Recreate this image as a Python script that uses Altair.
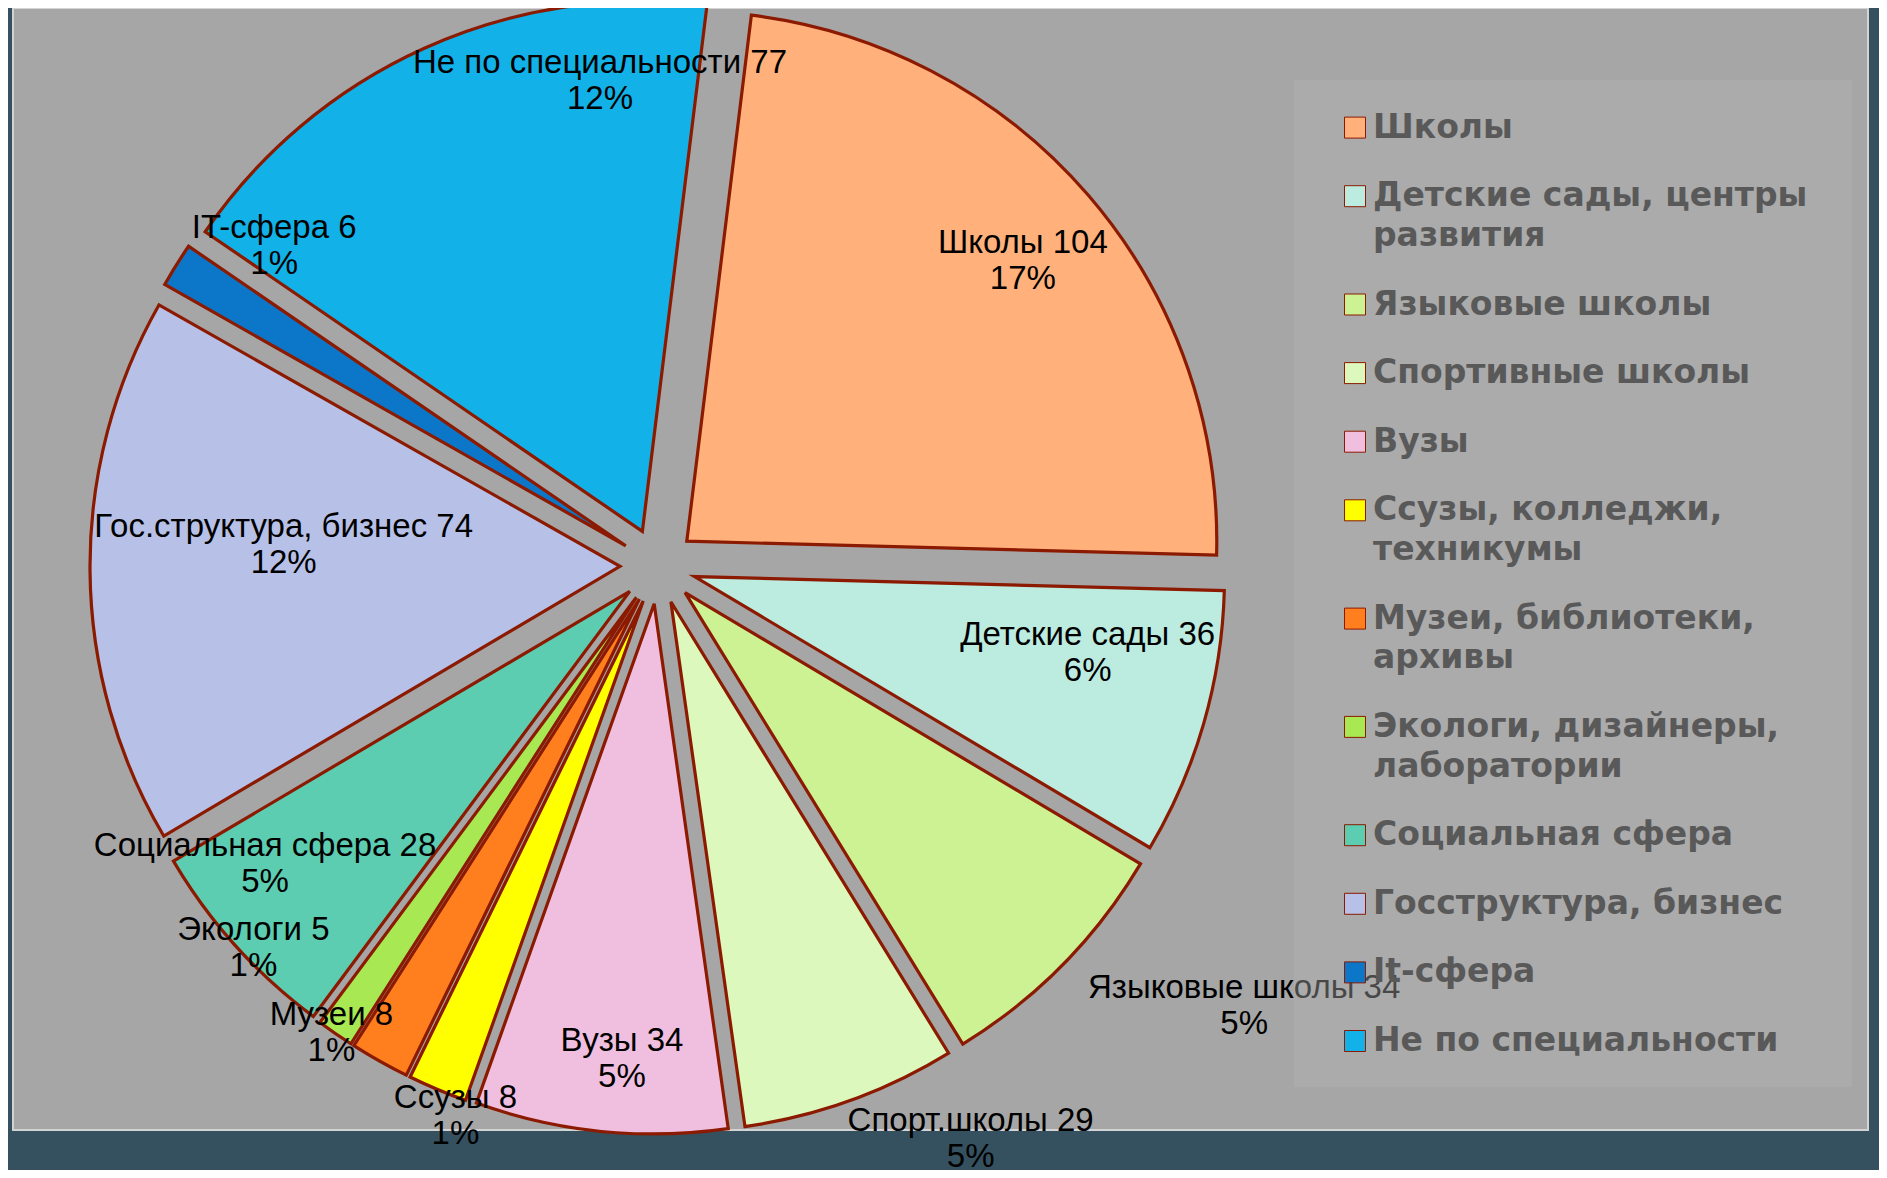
import math
import altair as alt
import pandas as pd

# ---- data ----
slice_labels = ["Школы", "Детские сады", "Языковые школы", "Спорт.школы", "Вузы",
                "Ссузы", "Музеи", "Экологи", "Социальная сфера",
                "Гос.структура, бизнес", "IT-сфера", "Не по специальности"]
slice_values = [104, 36, 34, 29, 34, 8, 8, 5, 28, 74, 6, 77]
slice_percents = ["17%", "6%", "5%", "5%", "5%", "1%", "1%", "1%", "5%", "12%", "1%", "12%"]
legend_labels = ["Школы", "Детские сады, центры\nразвития", "Языковые школы",
                 "Спортивные школы", "Вузы", "Ссузы, колледжи,\nтехникумы",
                 "Музеи, библиотеки,\nархивы", "Экологи, дизайнеры,\nлаборатории",
                 "Социальная сфера", "Госструктура, бизнес", "It-сфера",
                 "Не по специальности"]
slice_colors = ["#FFB07B", "#BCEBE0", "#CCF294", "#DDF8BC", "#F0BFDF", "#FFFF00",
                "#FF7F1F", "#A8E852", "#5CCDB0", "#B7C1E8", "#0C77C8", "#12B2E8"]

# ---- label placement (style): angle clockwise from 12 o'clock (deg), distance from centre (px)
label_angle = [49.9, 101.2, 126.8, 151.3, 184.2, 200.3, 215.1, 226.8, 233.0, 273.5, 310.0, 353.2]
label_distance = [477, 438, 732, 651, 492, 584, 568, 555, 492, 375, 501, 490]

TOTAL = sum(slice_values)
CX, CY, R, EXPLODE = 645, 558, 530, 38
START = math.radians(7)

pie = pd.DataFrame({
    "order": list(range(len(slice_values))),
    "label": slice_labels,
    "value": slice_values,
    "pct": slice_percents,
    "legend": legend_labels,
    "la": label_angle,
    "ld": label_distance,
})
pie["text"] = pie["label"] + " " + pie["value"].astype(str) + "\n" + pie["pct"]

extra = []
acc = 0
for s in legend_labels:
    extra.append(acc)
    acc += s.count("\n")
leg = pd.DataFrame({"legend": legend_labels, "order": list(range(len(legend_labels))), "extra": extra})

color = alt.Color("legend:N", scale=alt.Scale(domain=legend_labels, range=slice_colors), legend=None)

arcs = (
    alt.Chart(pie)
    .transform_window(cum="sum(value)", sort=[alt.SortField("order")], frame=[None, 0])
    .transform_calculate(start="datum.cum - datum.value")
    .transform_calculate(mid=f"{START} + (datum.start + datum.value / 2) / {TOTAL} * 2 * PI")
    .transform_calculate(px=f"{CX} + {EXPLODE} * sin(datum.mid)",
                         py=f"{CY} - {EXPLODE} * cos(datum.mid)")
    .mark_arc(radius=R, stroke="#8B1A00", strokeWidth=3.2, strokeJoin="miter")
    .encode(
        theta=alt.Theta("start:Q", scale=alt.Scale(domain=[0, TOTAL], range=[START, START + 2 * math.pi]), stack=None),
        theta2=alt.Theta2("cum:Q"),
        x=alt.X("px:Q", scale=None, axis=None),
        y=alt.Y("py:Q", scale=None, axis=None),
        color=color,
    )
)

labels = (
    alt.Chart(pie)
    .transform_calculate(lx=f"{CX} + datum.ld * sin(datum.la * PI / 180)",
                         ly=f"{CY + 2} - datum.ld * cos(datum.la * PI / 180)")
    .mark_text(font="Liberation Sans", fontSize=33, lineBreak="\n", lineHeight=36,
               align="center", baseline="middle", color="black", dy=-18)
    .encode(x=alt.X("lx:Q", scale=None, axis=None),
            y=alt.Y("ly:Q", scale=None, axis=None),
            text="text:N")
)

box = (
    alt.Chart(pd.DataFrame({"k": [0]}))
    .mark_rect(fill="#B4B4B4", opacity=0.4)
    .encode(x=alt.value(1281), x2=alt.value(1839), y=alt.value(72), y2=alt.value(1079))
)

LEG_TOP, LEG_STEP, LEG_EXTRA = 119.6, 68.6, 39.7

legbase = alt.Chart(leg).transform_calculate(
    ly=f"{LEG_TOP} + {LEG_STEP} * datum.order + {LEG_EXTRA} * datum.extra")

squares = legbase.mark_square(size=441, filled=True, opacity=1, stroke="#8B1A00", strokeWidth=1).encode(
    x=alt.value(1342), y=alt.Y("ly:Q", scale=None, axis=None), color=color)

legtext = legbase.mark_text(font="DejaVu Sans", fontSize=33, fontWeight="bold", color="#595959",
                            align="left", baseline="middle", lineBreak="\n", lineHeight=39.7).encode(
    x=alt.value(1360), y=alt.Y("ly:Q", scale=None, axis=None), text="legend:N")

chart = (
    alt.layer(arcs, labels, box, squares, legtext)
    .properties(width=1855, height=1122,
                padding={"left": 5, "top": 0, "right": 11, "bottom": 40},
                autosize=alt.AutoSizeParams(type="none"),
                background="#35515F")
    .configure_view(fill="#A6A6A6", stroke="#D3D3D3", strokeWidth=2)
)

chart.save("out.html", embed_options={"renderer": "svg", "actions": False})
